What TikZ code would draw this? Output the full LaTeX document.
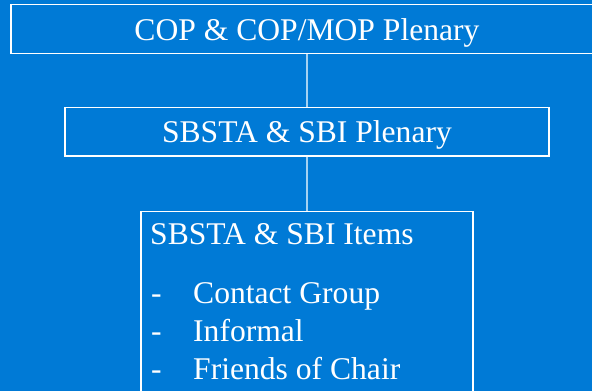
\documentclass[tikz,border=0pt]{standalone}
\usepackage{fontspec}
\setmainfont{Liberation Serif}
\usepackage{xcolor}
\usetikzlibrary{calc}
\definecolor{slideblue}{RGB}{0,122,214}
\definecolor{linkblue}{RGB}{165,210,242}

\begin{document}
\begin{tikzpicture}[x=1pt,y=1pt,
    box/.style={draw=white,line width=1.3pt,inner sep=0pt,text=white,
      font=\fontsize{31.6}{38}\selectfont,text height=21.6pt,text depth=0pt},
    link/.style={draw=linkblue,line width=1.3pt},
    txt/.style={text=white,inner sep=0pt,font=\fontsize{31.6}{38}\selectfont}]
    \useasboundingbox (0,0) rectangle (592,-391);
    \clip (0,0) rectangle (592,-391);
    \fill [slideblue] (0,0) rectangle (592,-391);
    % boxes
    \node [box,minimum width=592,minimum height=49] (cop) at (307,-29.2) {COP \& COP/MOP Plenary};
    \node [box,minimum width=484,minimum height=48.6] (sbplen) at (307,-131.6) {SBSTA \& SBI Plenary};
    \node [box,minimum width=332,minimum height=260,anchor=north] (items) at (307,-210.5) {};
    % list
    \node [txt,anchor=base west] (title) at (150,-244) {SBSTA \& SBI Items};
    \node [txt,anchor=base west] (contact) at (151,-303) {\makebox[42pt][l]{-}Contact Group};
    \node [txt,anchor=base west] (informal) at (151,-341) {\makebox[42pt][l]{-}Informal};
    \node [txt,anchor=base west] (friends) at (151,-379) {\makebox[42pt][l]{-}Friends of Chair};
    % links
    \draw [link] (cop) -- (sbplen);
    \draw [link] (sbplen) -- (items);
\end{tikzpicture}
\end{document}
